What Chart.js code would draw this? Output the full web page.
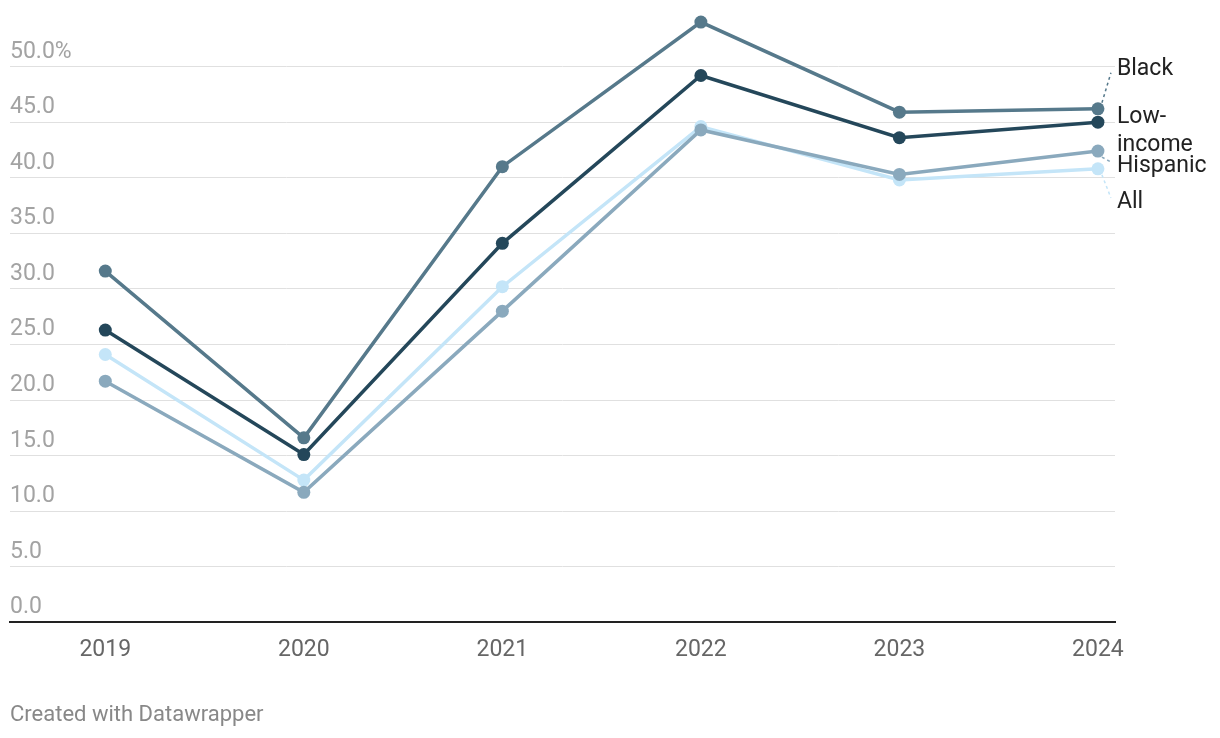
<!DOCTYPE html>
<html>
<head>
<meta charset="utf-8">
<script src="https://cdn.jsdelivr.net/npm/chart.js@4/dist/chart.umd.min.js"></script>
<style>
  body { margin: 0; background: #fff; font-family: Roboto, sans-serif; }
  #wrap { position: relative; width: 1220px; height: 738px; }
  #footer { position: absolute; left: 10px; top: 701px; font-size: 22px; color: #888; }
</style>
</head>
<body>
<div id="wrap">
  <canvas id="chart"></canvas>
  <div id="footer">Created with Datawrapper</div>
</div>
<script>
// ---- data ----
const years = [2019, 2020, 2021, 2022, 2023, 2024];
const yTicks = [0, 5, 10, 15, 20, 25, 30, 35, 40, 45, 50];

const allValues      = [24.1, 12.8, 30.2, 44.6, 39.8, 40.8];
const hispanicValues = [21.7, 11.7, 28.0, 44.3, 40.3, 42.4];
const lowIncomeValues = [26.3, 15.1, 34.1, 49.2, 43.6, 45.0];
const blackValues    = [31.6, 16.6, 41.0, 54.0, 45.9, 46.2];

// series in drawing order (first is drawn at the bottom)
const series = [
  { name: "All",        values: allValues,       color: "#c4e5f8", lines: ["All"],            dy: 33, leader: true },
  { name: "Hispanic",   values: hispanicValues,  color: "#8aa9bd", lines: ["Hispanic"],       dy: 15, leader: true },
  { name: "Low-income", values: lowIncomeValues, color: "#24475a", lines: ["Low-", "income"], dy: -5, leader: false },
  { name: "Black",      values: blackValues,     color: "#56798b", lines: ["Black"],          dy: -40, leader: true }
];

const FONT = "Roboto, sans-serif";

// y tick labels sit above their gridline, flush left
const yLabelPlugin = {
  id: "yLabels",
  afterDraw(chart) {
    const ctx = chart.ctx;
    const y = chart.scales.y;
    ctx.save();
    ctx.font = "23px " + FONT;
    ctx.fillStyle = "#a3a3a3";
    ctx.textAlign = "left";
    ctx.textBaseline = "alphabetic";
    yTicks.forEach(v => {
      const txt = v.toFixed(1) + (v === 50 ? "%" : "");
      ctx.fillText(txt, chart.chartArea.left, y.getPixelForValue(v) - 9);
    });
    ctx.restore();
  }
};

// direct labels at the right end of each line
const endLabelPlugin = {
  id: "endLabels",
  afterDatasetsDraw(chart) {
    const ctx = chart.ctx;
    const x = chart.scales.x;
    const y = chart.scales.y;
    const last = years.length - 1;
    const px = x.getPixelForValue(years[last]);
    const lx = px + 19;
    ctx.save();
    ctx.font = "23px " + FONT;
    ctx.textAlign = "left";
    ctx.textBaseline = "middle";
    series.forEach(s => {
      const py = y.getPixelForValue(s.values[last]);
      const ly = py + s.dy;
      if (s.leader) {
        ctx.strokeStyle = s.color;
        ctx.lineWidth = 1.5;
        ctx.setLineDash([3, 3]);
        ctx.beginPath();
        const dir = s.dy < 0 ? -1 : 1;
        ctx.moveTo(px + 4, py + dir * 6);
        ctx.lineTo(px + 13, ly - dir * 4);
        ctx.stroke();
        ctx.setLineDash([]);
      }
      ctx.fillStyle = "#222";
      s.lines.forEach((t, i) => ctx.fillText(t, lx, ly + i * 28));
    });
    ctx.restore();
  }
};

new Chart(document.getElementById("chart"), {
  type: "line",
  data: {
    datasets: series.slice().reverse().map(s => ({
      label: s.name,
      data: years.map((yr, i) => ({ x: yr, y: s.values[i] })),
      borderColor: s.color,
      backgroundColor: s.color,
      pointBackgroundColor: s.color,
      pointBorderWidth: 0,
      pointRadius: 6.5,
      borderWidth: 3.5,
      tension: 0,
      clip: false
    }))
  },
  options: {
    responsive: true,
    maintainAspectRatio: false,
    animation: false,
    events: [],
    layout: { padding: { left: 10, right: 105, top: 11, bottom: 68 } },
    plugins: { legend: { display: false }, tooltip: { enabled: false } },
    scales: {
      x: {
        type: "linear",
        min: 2018.52,
        max: 2024.086,
        afterBuildTicks: s => { s.ticks = years.map(v => ({ value: v })); },
        grid: { display: false },
        border: { display: true, color: "#222", width: 2 },
        ticks: {
          color: "#666",
          font: { family: FONT, size: 23 },
          padding: 6,
          maxRotation: 0,
          autoSkip: false,
          callback: v => String(v)
        }
      },
      y: {
        min: 0,
        max: 55,
        afterBuildTicks: s => { s.ticks = yTicks.map(v => ({ value: v })); },
        grid: { color: "#e0e0e0", lineWidth: 1, drawTicks: false },
        border: { display: false },
        ticks: { display: false }
      }
    }
  },
  plugins: [yLabelPlugin, endLabelPlugin]
});
</script>
</body>
</html>
